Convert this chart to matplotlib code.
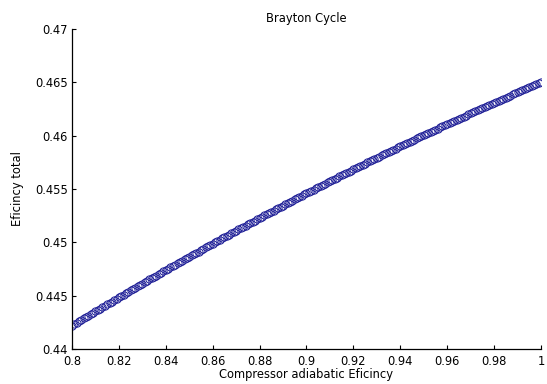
import numpy as np
import matplotlib
matplotlib.use('Agg')
import matplotlib.pyplot as plt

# total efficiency, compressor efficiency 0.8 -> 1.0 step 0.001
eff_total = [
    0.44220, 0.44234, 0.44247, 0.44260, 0.44273, 0.44287, 0.44300, 0.44314, 0.44327, 0.44340,
    0.44353, 0.44366, 0.44379, 0.44393, 0.44406, 0.44419, 0.44432, 0.44445, 0.44458, 0.44471,
    0.44484, 0.44497, 0.44510, 0.44523, 0.44536, 0.44549, 0.44562, 0.44575, 0.44587, 0.44600,
    0.44613, 0.44626, 0.44639, 0.44652, 0.44664, 0.44677, 0.44689, 0.44702, 0.44715, 0.44728,
    0.44740, 0.44753, 0.44765, 0.44778, 0.44790, 0.44803, 0.44815, 0.44828, 0.44840, 0.44853,
    0.44865, 0.44878, 0.44890, 0.44902, 0.44914, 0.44927, 0.44939, 0.44952, 0.44964, 0.44976,
    0.44988, 0.45000, 0.45012, 0.45025, 0.45037, 0.45049, 0.45061, 0.45073, 0.45085, 0.45097,
    0.45109, 0.45121, 0.45133, 0.45145, 0.45157, 0.45169, 0.45181, 0.45193, 0.45204, 0.45216,
    0.45228, 0.45240, 0.45252, 0.45264, 0.45275, 0.45287, 0.45298, 0.45310, 0.45322, 0.45334,
    0.45345, 0.45357, 0.45368, 0.45380, 0.45391, 0.45403, 0.45414, 0.45426, 0.45437, 0.45449,
    0.45460, 0.45472, 0.45483, 0.45494, 0.45505, 0.45517, 0.45528, 0.45540, 0.45551, 0.45562,
    0.45573, 0.45584, 0.45595, 0.45607, 0.45618, 0.45629, 0.45640, 0.45651, 0.45662, 0.45673,
    0.45684, 0.45695, 0.45706, 0.45717, 0.45728, 0.45739, 0.45750, 0.45761, 0.45771, 0.45782,
    0.45793, 0.45804, 0.45815, 0.45826, 0.45836, 0.45847, 0.45857, 0.45868, 0.45879, 0.45890,
    0.45900, 0.45911, 0.45921, 0.45932, 0.45942, 0.45953, 0.45963, 0.45974, 0.45984, 0.45995,
    0.46005, 0.46016, 0.46026, 0.46036, 0.46046, 0.46057, 0.46067, 0.46078, 0.46088, 0.46098,
    0.46108, 0.46118, 0.46128, 0.46139, 0.46149, 0.46159, 0.46169, 0.46179, 0.46189, 0.46199,
    0.46209, 0.46219, 0.46229, 0.46239, 0.46249, 0.46259, 0.46269, 0.46279, 0.46288, 0.46298,
    0.46308, 0.46318, 0.46328, 0.46338, 0.46347, 0.46357, 0.46366, 0.46376, 0.46386, 0.46396,
    0.46405, 0.46415, 0.46424, 0.46434, 0.46443, 0.46453, 0.46462, 0.46472, 0.46481, 0.46491,
    0.46500,
]
comp_eff = np.linspace(0.8, 1.0, len(eff_total))

x_ticks = [0.8, 0.82, 0.84, 0.86, 0.88, 0.9, 0.92, 0.94, 0.96, 0.98, 1.0]
x_labels = ['0.8', '0.82', '0.84', '0.86', '0.88', '0.9', '0.92', '0.94', '0.96', '0.98', '1']
y_ticks = [0.44, 0.445, 0.45, 0.455, 0.46, 0.465, 0.47]
y_labels = ['0.44', '0.445', '0.45', '0.455', '0.46', '0.465', '0.47']

plt.rcParams['font.family'] = ['DejaVu Sans']
plt.rcParams['font.size'] = 8.3

fig = plt.figure(figsize=(5.47, 3.84), dpi=100)
ax = fig.add_axes([0.1316, 0.0911, 0.8574, 0.8334])

ax.plot(comp_eff, eff_total, 'o', markersize=5.2, markerfacecolor='none',
        markeredgecolor='#1e1e96', markeredgewidth=0.7)

ax.set_xlim(0.8, 1.0)
ax.set_ylim(0.44, 0.47)
ax.set_xticks(x_ticks)
ax.set_xticklabels(x_labels)
ax.set_yticks(y_ticks)
ax.set_yticklabels(y_labels)
ax.tick_params(direction='in', length=3, width=0.8)
ax.tick_params(axis='x', pad=4)
ax.tick_params(axis='y', pad=3)

ax.spines['top'].set_visible(False)
ax.spines['right'].set_visible(False)
ax.spines['left'].set_linewidth(0.9)
ax.spines['bottom'].set_linewidth(0.9)

ax.set_title('Brayton Cycle', fontsize=8.3, pad=5)
ax.set_xlabel('Compressor adiabatic Eficincy', labelpad=0)
ax.set_ylabel('Eficincy total', labelpad=8)

fig.savefig('out.png', dpi=100)
